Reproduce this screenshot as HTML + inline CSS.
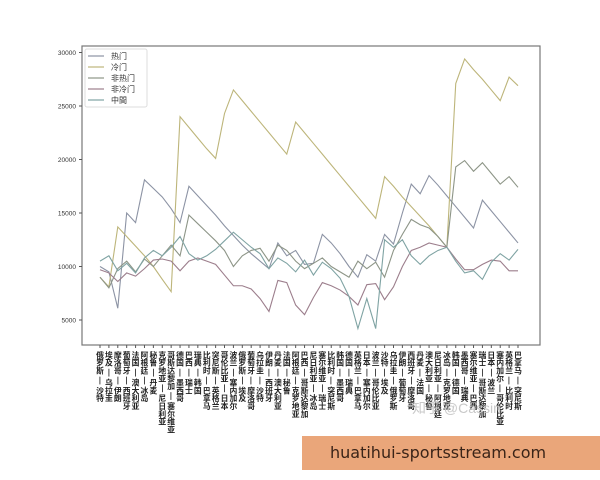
<!DOCTYPE html>
<html><head><meta charset="utf-8">
<style>
body{margin:0;background:#fff;width:600px;height:480px;overflow:hidden;position:relative;font-family:"Liberation Sans","Noto Sans CJK SC",sans-serif}
svg{position:absolute;left:0;top:0}
.banner{position:absolute;left:302px;top:436px;width:298px;height:34px;background:#eaa67a;color:#3a2418;font-size:16px;line-height:34px;padding-left:28px;box-sizing:border-box;font-family:"DejaVu Sans","Liberation Sans",sans-serif}
.wm{position:absolute;left:412px;top:398px;color:#c9c9c9;font-size:14px}
</style></head><body>
<svg id="chart" width="600" height="480" xmlns="http://www.w3.org/2000/svg"></svg>
<div class="wm">知乎 @Cassin</div>
<div class="banner">huatihui-sportsstream.com</div>
<script>
const categories=["俄罗斯—沙特","埃及—乌拉圭","摩洛哥—伊朗","葡萄牙—西班牙","法国—澳大利亚","阿根廷—冰岛","秘鲁—丹麦","克罗地亚—尼日利亚","哥斯达黎加—塞尔维亚","德国—墨西哥","巴西—瑞士","瑞典—韩国","比利时—巴拿马","突尼斯—英格兰","哥伦比亚—日本","波兰—塞内加尔","俄罗斯—埃及","葡萄牙—摩洛哥","乌拉圭—沙特","伊朗—西班牙","丹麦—澳大利亚","法国—秘鲁","阿根廷—克罗地亚","巴西—哥斯达黎加","尼日利亚—冰岛","塞尔维亚—瑞士","比利时—突尼斯","韩国—墨西哥","德国—瑞典","英格兰—巴拿马","日本—塞内加尔","波兰—哥伦比亚","沙特—埃及","乌拉圭—俄罗斯","伊朗—葡萄牙","西班牙—摩洛哥","丹麦—法国","澳大利亚—秘鲁","尼日利亚—阿根廷","冰岛—克罗地亚","韩国—德国","墨西哥—瑞典","塞尔维亚—巴西","瑞士—哥斯达黎加","日本—波兰","塞内加尔—哥伦比亚","英格兰—比利时","巴拿马—突尼斯"];
const seriesNames=["热门","冷门","非热门","非冷门","中間"];
const hot=[10000,9500,6100,15000,14100,18100,17300,16500,15400,14100,17500,16600,15700,14800,13800,12900,12000,11200,10500,9800,12200,11000,11500,10200,10300,13000,12200,11200,10000,9000,11100,10500,13000,12100,15000,17700,16800,18500,17600,16600,15600,14600,13600,16200,15200,14200,13200,12200];
const cold=[9000,8100,13700,12800,11900,11000,10000,8800,7650,24000,23000,22000,21000,20100,24300,26500,25500,24500,23500,22500,21500,20500,23500,22500,21500,20500,19500,18500,17500,16500,15500,14500,18400,17500,16500,15600,14700,13800,12800,11800,27100,29400,28400,27500,26500,25500,27700,26900];
const nonHot=[9000,8000,9800,10500,9500,10700,10000,11000,12000,11000,14800,14000,13200,12400,11500,10000,11000,11500,11700,10500,12000,11500,10500,9800,10300,10800,10000,9500,9000,10500,9800,10400,9000,11500,13000,14400,13900,13600,12800,11800,19300,19900,18900,19700,18700,17700,18400,17400];
const nonCold=[9700,9400,8600,9400,9100,9800,10600,10700,10500,9600,10500,10800,10500,10200,9200,8200,8200,7900,7000,5800,8700,8500,6400,5500,7100,8500,8200,7800,7200,6400,8300,8400,6900,8100,10000,11500,11800,12200,12000,11800,10700,9700,9700,10200,10600,10500,9600,9600];
const mid=[10500,11000,9600,10300,9400,10800,11500,11000,11800,12800,11200,10600,11000,11600,12400,13200,12500,11800,11200,9800,10800,10300,9500,10600,9200,10400,9800,8900,7200,4200,7000,4200,12500,11800,12500,11000,10200,11000,11500,11800,10500,9400,9600,8800,10400,11200,10600,11600];
const yTicks=[5000,10000,15000,20000,25000,30000];
const allSeries=[hot,cold,nonHot,nonCold,mid];
const colors=["#8c93a4","#bdb57a","#8d9587","#9c7e8c","#7fa3a3"];
const NS="http://www.w3.org/2000/svg";
const svg=document.getElementById('chart');
const L=82,R=540,T=46,B=345,x0=100,x1=518;
const xs=i=>x0+i*(x1-x0)/(categories.length-1);
const ys=v=>373.5-v*10.7/1000;
function mk(t,a,p){const e=document.createElementNS(NS,t);for(const k in a)e.setAttribute(k,a[k]);(p||svg).appendChild(e);return e;}
const frame=mk('rect',{x:L,y:T,width:R-L,height:B-T,fill:'none',stroke:'#777','stroke-width':1.2});


yTicks.forEach(v=>{
  const tk=mk('line',{x1:L-3,x2:L,y1:ys(v),y2:ys(v),stroke:'#555'});
  
  
  const t=mk('text',{x:L-6,y:ys(v)+2.5,'font-size':6.5,'text-anchor':'end',fill:'#333'});
  t.textContent=v;
  
  
});
categories.forEach((c,i)=>{
  const tk=mk('line',{x1:xs(i),x2:xs(i),y1:B,y2:B+3,stroke:'#555'});
  
  
  const t=mk('text',{x:xs(i),y:B+6,'font-size':7.8,'font-weight':'bold','writing-mode':'tb',fill:'#222'});
  t.textContent=c.replace('—',' — ');
  
  
});
allSeries.forEach((s,k)=>{
  const p=mk('polyline',{points:s.map((v,i)=>xs(i)+','+ys(v)).join(' '),fill:'none',stroke:colors[k],'stroke-width':1.1});
  
  
});
const lg=mk('rect',{x:85,y:49,width:62,height:58,fill:'#fff',stroke:'#ddd',rx:2});


seriesNames.forEach((n,k)=>{
  const y=56+k*11;
  const l=mk('line',{x1:88,x2:104,y1:y,y2:y,stroke:colors[k],'stroke-width':1.2});
  
  
  const t=mk('text',{x:111,y:y+3,'font-size':8,fill:'#333'});
  t.textContent=n;
  
  
});
</script>
</body></html>
